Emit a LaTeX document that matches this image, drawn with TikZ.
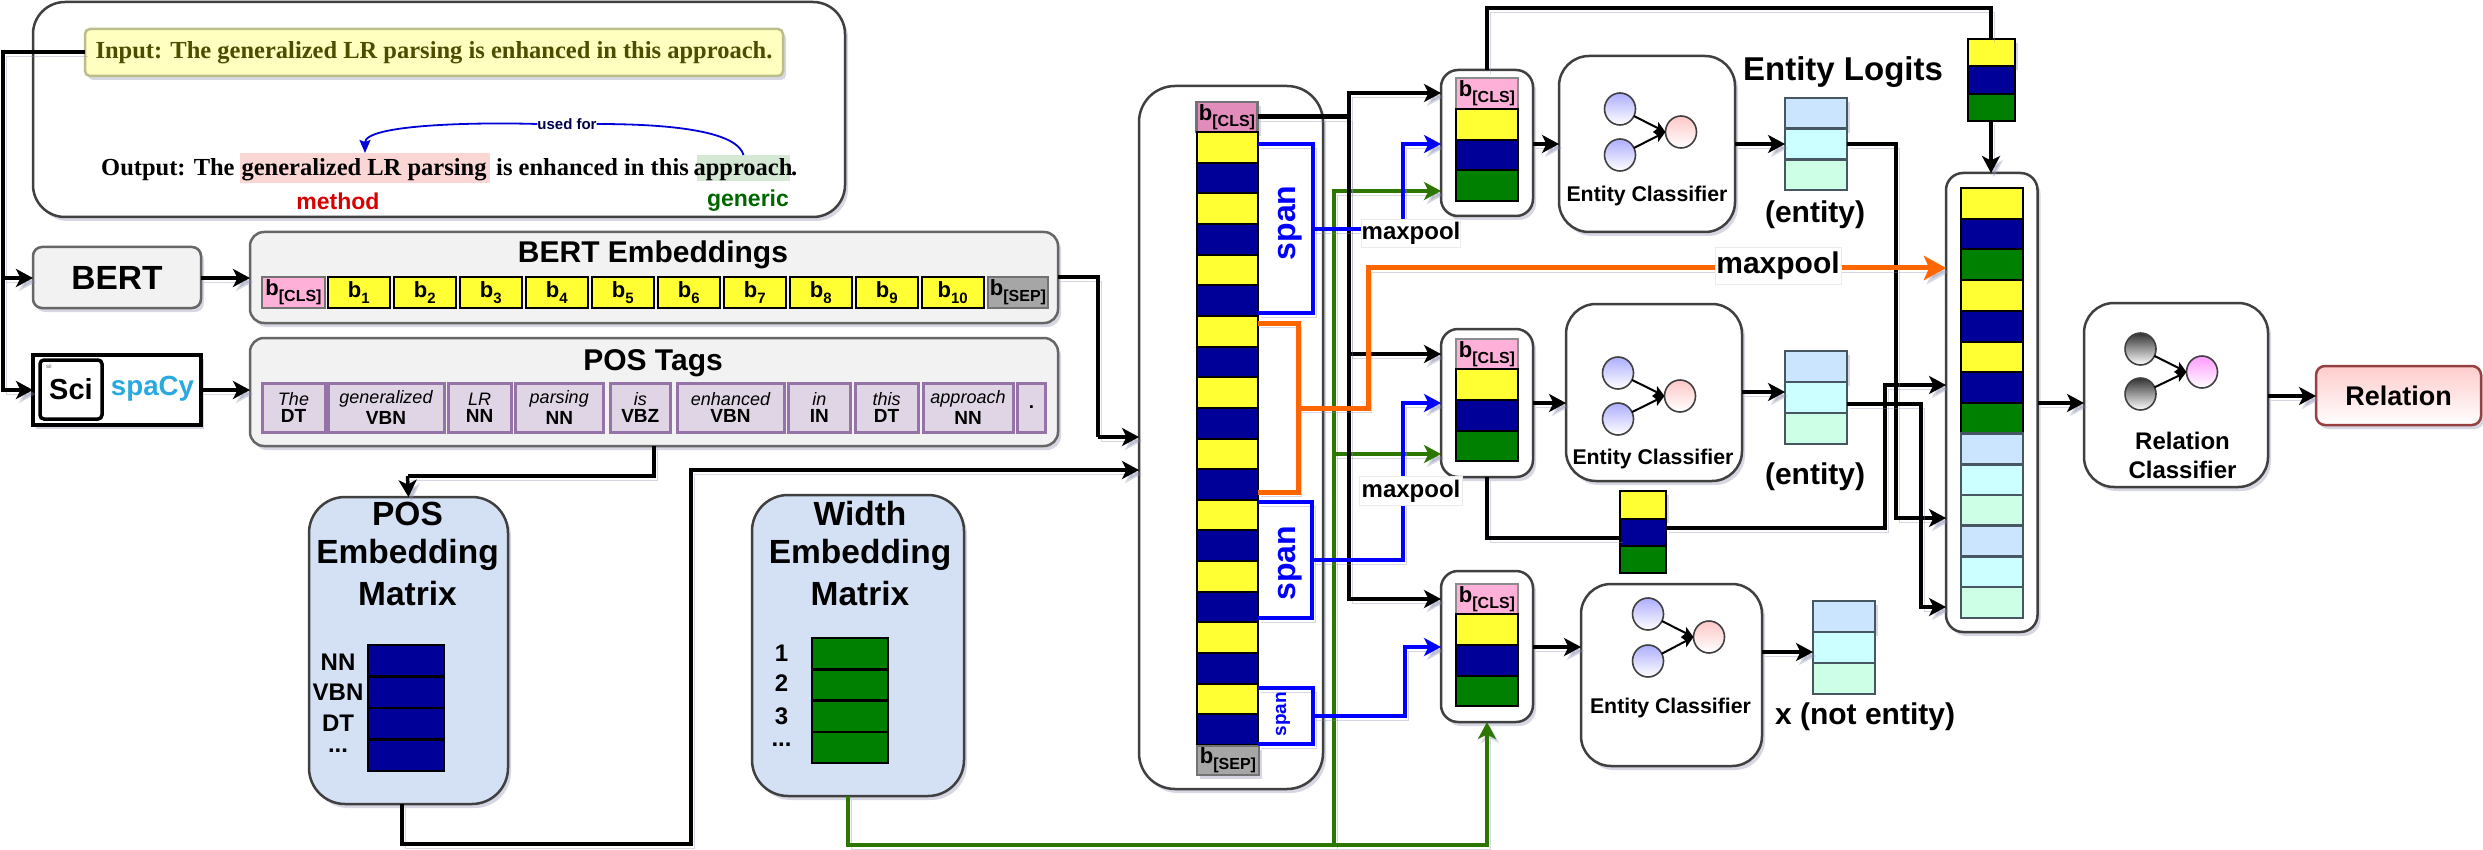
\documentclass[tikz,border=0pt]{standalone}
\usepackage{fontspec}
\setmainfont{Liberation Sans}
\newfontfamily\serifbf{Liberation Serif}[BoldFont={Liberation Serif Bold}]
\usetikzlibrary{arrows.meta,shapes.geometric,shadows}
\definecolor{cyel}{HTML}{FFFF33}
\definecolor{cnav}{HTML}{000099}
\definecolor{cgre}{HTML}{008000}
\definecolor{lbl}{HTML}{CCE5FF}
\definecolor{lcy}{HTML}{CCFFFF}
\definecolor{lgr}{HTML}{CCFFE6}
\definecolor{cpnk}{HTML}{FFB0D8}
\definecolor{cpnkd}{HTML}{E28CBB}
\definecolor{cshd}{HTML}{8A8FB0}
\definecolor{wgreen}{HTML}{2D7600}
\definecolor{worange}{HTML}{FF6600}
\definecolor{matf}{HTML}{D4E1F5}
\definecolor{inpf}{HTML}{FFFFC0}
\definecolor{inpd}{HTML}{BDBD8A}
\definecolor{inpt}{HTML}{4D4D00}
\definecolor{hlred}{HTML}{FAD7D4}
\definecolor{hlgrn}{HTML}{D5E8D4}
\definecolor{spcol}{HTML}{29A9DF}
\definecolor{tagf}{HTML}{9673A6}
\newcommand{\fs}[1]{\fontsize{#1}{#1}\selectfont}
\newcommand{\bx}[7][]{%
  \pgfmathsetmacro\myw{(#5)-(#3)}%
  \pgfmathsetmacro\myh{(#6)-(#4)}%
  \node[boxbase,minimum width=\myw pt,minimum height=\myh pt,#1] (#2) at ({((#3)+(#5))/2},{((#4)+(#6))/2}) {#7};}
\newcommand{\bsub}[1]{{\bfseries\fs{22}b\raisebox{-.28em}{\fs{16}#1}}}
\newcommand{\bnum}[1]{{\bfseries\fs{22}b\raisebox{-.28em}{\fs{15}#1}}}
\newcommand{\tagc}[2]{{\fs{18}\itshape #1}\\[3pt]{\fs{19}\bfseries #2}}
% prefix, left x, top y, bottom y, right x, right y, left style, right style
\newcommand{\netw}[8]{%
  \node[circ,#7] (#1a) at (#2,#3) {};
  \node[circ,#7] (#1b) at (#2,#4) {};
  \node[circ,#8] (#1c) at (#5,#6) {};
  \draw[netarrow] (#1a) -- (#1c.west);
  \draw[netarrow] (#1b) -- (#1c.west);}
\tikzset{
  x=1pt,y=-1pt,
  boxbase/.style={inner sep=0pt,outer sep=0pt,align=center},
  softshadow/.style={drop shadow={shadow xshift=3pt,shadow yshift=-4pt,opacity=.35,fill=cshd}},
  panel/.style={draw=black!75,line width=2.5pt,fill=white,rounded corners=#1,softshadow},
  panel/.default=30pt,
  cell/.style={draw=black,line width=2pt},
  pale/.style={draw=black!70!cyan,line width=2.5pt},
  tagcell/.style={draw=#1,line width=3pt,fill=#1!30!white},
  linebase/.style={line width=3.5pt,line join=miter,preaction={draw=cshd,opacity=.35,transform canvas={xshift=3pt,yshift=-4pt}}},
  wire/.style={linebase,draw=black},
  conn/.style={wire,-{Stealth[length=17pt,width=18pt,inset=4.5pt]}},
  bluewire/.style={linebase,draw=blue},
  blueconn/.style={bluewire,-{Stealth[length=17pt,width=18pt,inset=4.5pt]}},
  greenconn/.style={linebase,draw=wgreen,-{Stealth[length=17pt,width=18pt,inset=4.5pt]}},
  greenwire/.style={linebase,draw=wgreen},
  orangewire/.style={linebase,line width=5pt,draw=worange},
  netarrow/.style={line width=2pt,draw=black,-{Stealth[length=11pt,width=11pt,inset=2.5pt]}},
  circ/.style={ellipse,inner sep=0pt,outer sep=0pt,minimum width=31pt,minimum height=32pt,draw=black!75,line width=1.6pt},
  blue grad/.style={top color=blue!32!white,bottom color=white,shading angle=0},
  red grad/.style={top color=red!22!white,bottom color=white},
  dark grad/.style={top color=black!80,bottom color=white},
  pink grad/.style={top color=magenta!40!white,bottom color=white},
  txt/.style={inner sep=0pt,outer sep=0pt,align=center,font=\bfseries},
  whitelabel/.style={fill=white,inner sep=0pt,outer sep=0pt,font=\bfseries,draw=black!8,line width=.6pt},
}
\begin{document}
\begin{tikzpicture}
\useasboundingbox (0,0) rectangle (2483,850);
\fill[white] (0,0) rectangle (2483,850);

% ---------- example panel
\bx[panel=32pt]{example}{33}{2}{845}{217}{}
\bx[draw=inpd,line width=2.5pt,fill=inpf,rounded corners=5pt,softshadow]{input}{85}{29}{783}{76}{\serifbf\bfseries\fs{24.5}\color{inpt}Input: The generalized LR parsing is enhanced in this approach.}
\node[anchor=base west,inner sep=0pt] (outa) at (101,176) {\serifbf\bfseries\fs{24.5}Output: The};
\bx[fill=hlred]{hla}{240}{153}{490}{183}{}
\node[anchor=base,inner sep=0pt] (hlat) at (364,176) {\serifbf\bfseries\fs{24.5}generalized LR parsing};
\node[anchor=base west,inner sep=0pt] (outb) at (496,176) {\serifbf\bfseries\fs{24.5}is enhanced in this};
\bx[fill=hlgrn]{hlb}{697}{155}{790}{181}{}
\node[anchor=base,inner sep=0pt] (hlbt) at (743,176) {\serifbf\bfseries\fs{24.5}approach};
\node[anchor=base west,inner sep=0pt] (outc) at (791,176) {\serifbf\bfseries\fs{24.5}.};
\node[txt,text=red!85!black] (method) at (338,201) {\fs{23}method};
\node[txt,text=green!40!black] (generic) at (748,201) {\fs{23}generic};
\node[txt,text=blue!30!black] (usedfor) at (567,124) {\fs{15}used for};
\draw[line width=1.8pt,draw=blue!85!black] (hlb.north) .. controls (738,135) and (690,124) .. (usedfor.east);
\draw[line width=1.8pt,draw=blue!85!black,-{Stealth[length=13pt,width=11pt,inset=2pt]}] (usedfor.west) .. controls (470,122) and (365,125) .. (hla.north);

% ---------- BERT / spaCy
\bx[draw=black!60,line width=2.5pt,fill=black!5,rounded corners=9pt,softshadow,font=\bfseries\fs{33.5}]{bert}{33}{247}{201}{308}{BERT}
\bx[draw=black,line width=3.5pt,fill=white,softshadow]{spacy}{33}{355}{201}{425}{}
\bx[draw=black,line width=3.5pt,fill=white,rounded corners=4pt,font=\bfseries\fs{29}]{sci}{40}{360}{102}{419}{Sci}
\node[txt,font=\fs{6},text=black!60] (scimark) at (49,366) {sii};
\node[txt,text=spcol] (spacyt) at (152.5,389) {\fs{27.7}spaCy};

\coordinate (inleft) at (3,52);
\draw[wire] (input.west |- inleft) -- (inleft) -- (3,278);
\draw[conn] (3,278) -- (bert.west |- 0,278);
\draw[conn] (3,278) |- (spacy.west |- 0,390);

% ---------- BERT embeddings
\bx[panel=14pt,draw=black!60,fill=black!5]{emb}{250}{232}{1058}{323}{}
\node[txt] (embt) at (653,255) {\fs{30}BERT Embeddings};
\bx[cell,draw=black!55,fill=cpnk]{ecls}{262}{277}{325}{308}{\bsub{[CLS]}}
\foreach \i in {1,...,10}{
  \bx[cell,fill=cyel]{eb\i}{262+\i*66}{277}{262+\i*66+61.5}{308}{\bnum{\i}}
}
\bx[cell,draw=black!55,fill=black!35]{esep}{988}{277}{1048}{308}{\bsub{[SEP]}}

% ---------- POS tags
\bx[panel=14pt,draw=black!60,fill=black!5]{pos}{250}{338}{1058}{446}{}
\node[txt] (post) at (653,363) {\fs{30}POS Tags};
\bx[tagcell=tagf]{t1}{262}{383}{325}{432}{\tagc{The}{DT}}
\bx[tagcell=tagf]{t2}{328}{383}{444}{432}{\tagc{generalized}{VBN}}
\bx[tagcell=tagf]{t3}{448}{383}{511}{432}{\tagc{LR}{NN}}
\bx[tagcell=tagf]{t4}{515}{383}{603.5}{432}{\tagc{parsing}{NN}}
\bx[tagcell=tagf]{t5}{610.5}{383}{670}{432}{\tagc{is}{VBZ}}
\bx[tagcell=tagf]{t6}{677}{383}{784}{432}{\tagc{enhanced}{VBN}}
\bx[tagcell=tagf]{t7}{788}{383}{850.5}{432}{\tagc{in}{IN}}
\bx[tagcell=tagf]{t8}{855}{383}{918}{432}{\tagc{this}{DT}}
\bx[tagcell=tagf]{t9}{923}{383}{1013}{432}{\tagc{approach}{NN}}
\bx[tagcell=tagf,font=\bfseries\fs{19}]{t10}{1017.5}{383}{1045.5}{432}{.}

\draw[conn] (bert.east |- 0,278) -- (emb.west |- 0,278);
\draw[conn] (spacy.east |- 0,390) -- (pos.west |- 0,390);

% ---------- POS embedding matrix
\bx[panel=36pt,draw=black!75,fill=matf]{posm}{309}{497}{508}{804}{}
\node[txt] (posa) at (407.5,514) {\fs{33.5}POS};
\node[txt] (posb) at (407.5,555) {\fs{33.5}Embedding};
\node[txt] (posc) at (407.5,594) {\fs{33.5}Matrix};
\foreach \i in {0,...,3}{
  \bx[draw=black,line width=2.5pt,fill=cnav]{pm\i}{368}{645+\i*31.5}{444}{645+\i*31.5+31.5}{}
}
\node[txt] (pna) at (338,662) {\fs{24}NN};
\node[txt] (pnb) at (338,692) {\fs{24}VBN};
\node[txt] (pnc) at (338,723) {\fs{24}DT};
\node[txt] (pnd) at (338,751) {\fs{24}...};

% ---------- Width embedding matrix
\bx[panel=36pt,draw=black!75,fill=matf]{widm}{752}{495}{964}{796}{}
\node[txt] (wida) at (860,514) {\fs{33.5}Width};
\node[txt] (widb) at (860,555) {\fs{33.5}Embedding};
\node[txt] (widc) at (860,594) {\fs{33.5}Matrix};
\foreach \i in {0,...,3}{
  \bx[draw=black,line width=2.5pt,fill=cgre]{wm\i}{812}{638+\i*31.25}{888}{638+\i*31.25+31.25}{}
}
\node[txt] (wna) at (781.5,653) {\fs{24}1};
\node[txt] (wnb) at (781.5,683) {\fs{24}2};
\node[txt] (wnc) at (781.5,716) {\fs{24}3};
\node[txt] (wnd) at (781.5,745) {\fs{24}...};

% ---------- central span box
\bx[panel=36pt]{span}{1139}{86}{1323}{789}{}
\bx[draw=black!55,line width=2.5pt,fill=cpnkd,softshadow]{scls}{1196.5}{102}{1257.5}{132}{\bsub{[CLS]}}
\foreach \i in {0,...,9}{
  \bx[cell,fill=cyel]{sy\i}{1196.5}{132+\i*61.3}{1257.5}{132+\i*61.3+30.65}{}
  \bx[cell,fill=cnav]{sn\i}{1196.5}{132+\i*61.3+30.65}{1257.5}{132+\i*61.3+61.3}{}
}
\bx[draw=black!55,line width=2.5pt,fill=black!35,softshadow]{ssep}{1197}{746}{1259}{775}{\bsub{[SEP]}}

% ---------- inputs to span box
\draw[wire] (emb.east |- 0,277) -- (1098,277) -- (1098,437);
\draw[conn] (1098,437) -- (span.west |- 0,437);
\draw[conn] (posm.south -| 402,0) -- (402,844) -- (691,844) -- (691,470) -- (span.west |- 0,470);
\draw[wire] (pos.south) -- (654,476) -- (407.5,476);
\draw[conn] (407.5,476) -- (posm.north);

% ---------- span markers
\coordinate (spa) at (1313,229);
\coordinate (spb) at (1312,560);
\coordinate (spc) at (1313,716);
\coordinate (ora) at (1298,408);
\draw[bluewire] (sy0.east |- 0,144) -- (1313,144) -- (1313,313) -- (sy3.east |- 0,313);
\node[txt,rotate=90,text=blue] (spant1) at (1290,223) {\fs{32}span};
\draw[bluewire] (sy6.east |- 0,502) -- (1312,502) -- (1312,618) -- (sn8.east |- 0,618);
\node[txt,rotate=90,text=blue] (spant2) at (1290,563) {\fs{32}span};
\draw[bluewire] (sy9.east |- 0,688) -- (1313,688) -- (1313,744) -- (sn9.east |- 0,744);
\node[txt,rotate=90,text=blue] (spant3) at (1283,714) {\fs{19}span};
\draw[orangewire] (sy3.east |- 0,323) -- (1298,323) -- (1298,492) -- (sn5.east |- 0,492);

% ---------- candidate boxes
\newcommand{\stack}[3]{% prefix, top y, pitch
  \bx[cell,fill=cyel]{#1y}{1456}{#2}{1518}{#2+#3}{}
  \bx[cell,fill=cnav]{#1n}{1456}{#2+#3}{1518}{#2+2*#3}{}
  \bx[cell,fill=cgre]{#1g}{1456}{#2+2*#3}{1518}{#2+3*#3}{}}
\bx[panel=17pt]{boxa}{1441}{70}{1533}{216}{}
\bx[draw=black!45,line width=2pt,fill=cpnk]{acls}{1456}{78}{1518}{109}{\bsub{[CLS]}}
\stack{a}{109}{30.67}
\bx[panel=17pt]{boxb}{1441}{329}{1533}{477}{}
\bx[draw=black!45,line width=2pt,fill=cpnk]{bcls}{1456}{339}{1518}{369}{\bsub{[CLS]}}
\stack{b}{369}{30.83}
\bx[panel=17pt]{boxc}{1441}{571}{1533}{722}{}
\bx[draw=black!45,line width=2pt,fill=cpnk]{ccls}{1456}{584}{1518}{614}{\bsub{[CLS]}}
\stack{c}{614}{30.83}

% ---------- green connectors
\coordinate (gcorner) at (1334,845);
\draw[greenwire,line width=4.5pt] (widm.south -| 848,0) -- (848,845) -- (gcorner);
\draw[greenconn] (gcorner) -- (1334,191) -- (boxa.west |- 0,191);
\draw[greenconn] (1334,454) -- (boxb.west |- 0,454);
\draw[greenconn] (gcorner) -- (1487,845) -- (boxc.south -| 1487,0);

% ---------- black CLS bus
\coordinate (busT) at (1349,117);
\draw[wire,line width=5pt] (scls.east |- busT) -- (busT);
\draw[conn] (busT) |- (boxa.west |- 0,93);
\draw[conn] (busT) |- (boxb.west |- 0,354);
\draw[conn] (busT) |- (boxc.west |- 0,599);

% ---------- span to candidates
\draw[blueconn] (spa) -- (1403,229) -- (1403,144) -- (boxa.west |- 0,144);
\draw[blueconn] (spb) -- (1403,560) -- (1403,403) -- (boxb.west |- 0,403);
\draw[blueconn] (spc) -- (1405,716) -- (1405,647) -- (boxc.west |- 0,647);
\node[whitelabel,minimum width=99pt,minimum height=28pt] (mpa) at (1411,233) {\fs{24}maxpool};
\node[whitelabel,minimum width=103pt,minimum height=29pt] (mpb) at (1411,491) {\fs{24}maxpool};

% ---------- entity classifiers
\bx[panel=30pt]{eca}{1559}{56}{1735}{232}{}
\netw{na}{1620}{109}{155}{1681}{132}{blue grad}{red grad}
\node[txt] (ecat) at (1647,196) {\fs{21.3}Entity Classifier};
\bx[panel=30pt]{ecb}{1566}{304}{1742}{481}{}
\netw{nb}{1618}{373}{419}{1680}{396}{blue grad}{red grad}
\node[txt] (ecbt) at (1653,459) {\fs{21.3}Entity Classifier};
\bx[panel=30pt]{ecc}{1581}{584}{1762}{766}{}
\netw{nc}{1648}{614}{661}{1709}{637}{blue grad}{red grad}
\node[txt] (ecct) at (1670.5,708) {\fs{21.3}Entity Classifier};

\draw[conn] (boxa.east |- 0,144) -- (eca.west |- 0,144);
\draw[conn] (boxb.east |- 0,403) -- (ecb.west |- 0,403);
\draw[conn] (boxc.east |- 0,647) -- (ecc.west |- 0,647);

% ---------- logits
\newcommand{\logits}[4]{% prefix, x0, y0, pitch
  \bx[pale,fill=lbl,softshadow]{#1a}{#2}{#3}{#2+62}{#3+#4}{}
  \bx[pale,fill=lcy]{#1b}{#2}{#3+#4}{#2+62}{#3+2*#4}{}
  \bx[pale,fill=lgr]{#1c}{#2}{#3+2*#4}{#2+62}{#3+3*#4}{}}
\logits{la}{1785}{98}{30.67}
\logits{lb}{1785}{351}{31}
\logits{lc}{1813}{601}{31}
\node[txt] (logt) at (1843,72) {\fs{33}Entity Logits};
\node[txt] (enta) at (1815,215) {\fs{30}(entity)};
\node[txt] (entb) at (1815,477) {\fs{30}(entity)};
\node[txt] (entc) at (1865,717) {\fs{30}x (not entity)};
\draw[conn] (eca.east |- 0,144) -- (lab.west |- 0,144);
\draw[conn] (ecb.east |- 0,392) -- (lbb.west |- 0,392);
\draw[conn] (ecc.east |- 0,652) -- (lcb.west |- 0,652);

% ---------- relation vector
\bx[panel=17pt]{rel}{1946}{173}{2037.5}{632}{}
\foreach \i/\c/\s in {0/cyel/cell,1/cnav/cell,2/cgre/cell,3/cyel/cell,4/cnav/cell,5/cyel/cell,6/cnav/cell,7/cgre/cell,8/lbl/pale,9/lcy/pale,10/lgr/pale,11/lbl/pale,12/lcy/pale,13/lgr/pale}{
  \bx[\s,fill=\c]{r\i}{1961}{188+\i*30.7}{2023}{188+\i*30.7+30.7}{}
}

% ---------- small stacks
\bx[cell,fill=cyel,softshadow]{ty}{1967.5}{39}{2014.5}{66.3}{}
\bx[cell,fill=cnav]{tn}{1967.5}{66.3}{2014.5}{93.6}{}
\bx[cell,fill=cgre]{tg}{1967.5}{93.6}{2014.5}{121}{}
\bx[cell,fill=cyel,softshadow]{my}{1620}{491}{1666}{518.5}{}
\bx[cell,fill=cnav]{mn}{1620}{518.5}{1666}{546}{}
\bx[cell,fill=cgre]{mg}{1620}{546}{1666}{573}{}

\draw[wire] (boxa.north -| 1487,0) -- (1487,8) -- (1991,8) -- (ty.north -| 1991,0);
\draw[conn] (tg.south -| 1991,0) -- (rel.north -| 1991,0);
\draw[wire] (boxb.south -| 1487,0) -- (1487,538) -- (mn.west |- 0,538);
\draw[conn] (mn.east |- 0,528) -- (1885,528) -- (1885,385) -- (rel.west |- 0,385);
\draw[conn] (lab.east |- 0,144) -- (1896,144) -- (1896,518) -- (rel.west |- 0,518);
\draw[conn] (lbb.east |- 0,404) -- (1921,404) -- (1921,607) -- (rel.west |- 0,607);

% ---------- orange maxpool
\draw[orangewire] (ora) -- (1368,408) -- (1368,268) -- (1780,268);
\draw[orangewire,-{Stealth[length=22pt,width=24pt,inset=5pt]}] (1780,268) -- (rel.west |- 0,268);
\node[whitelabel,minimum width=126pt,minimum height=37pt] (mpc) at (1778,266) {\fs{30}maxpool};

% ---------- relation classifier
\bx[panel=30pt]{rc}{2084}{303}{2268}{487}{}
\netw{nr}{2140.5}{349}{394}{2202}{372}{dark grad}{pink grad}
\node[txt] (rcta) at (2182.5,441) {\fs{24}Relation};
\node[txt] (rctb) at (2182.5,470) {\fs{24}Classifier};
\bx[draw=red!45!black!75!white,line width=2.5pt,top color=red!20!white,bottom color=white,rounded corners=9pt,softshadow,font=\bfseries\fs{27}]{relout}{2316}{366}{2481}{425}{Relation}
\draw[conn] (rel.east |- 0,403) -- (rc.west |- 0,403);
\draw[conn] (rc.east |- 0,396) -- (relout.west |- 0,396);
\end{tikzpicture}
\end{document}
